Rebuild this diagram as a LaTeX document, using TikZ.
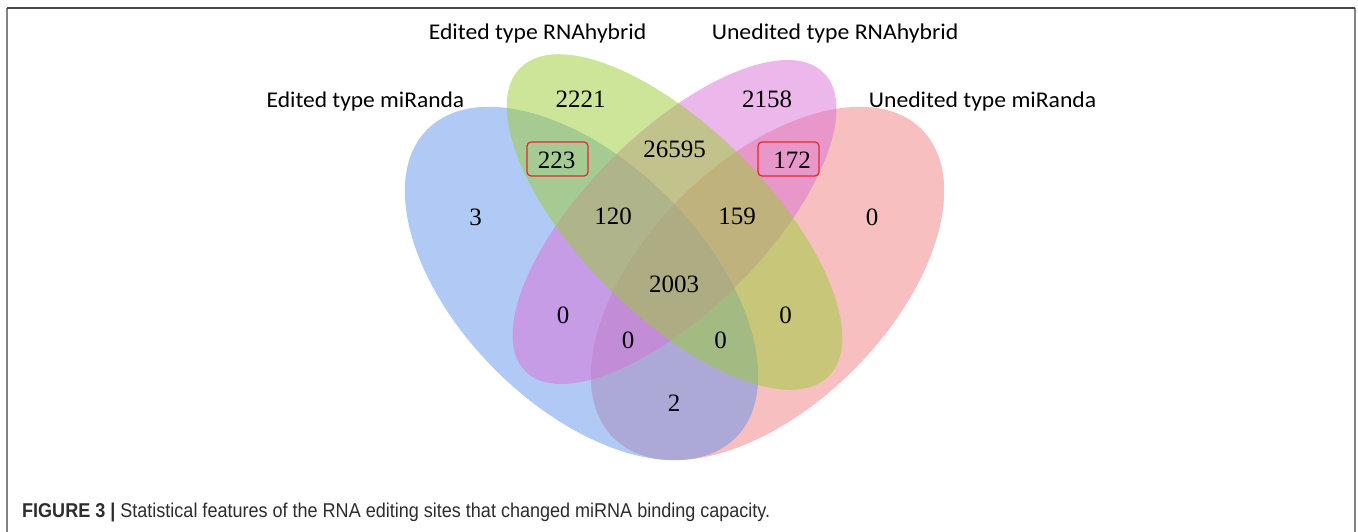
\documentclass[tikz,border=0pt]{standalone}
\usepackage{fontspec}
\usepackage{graphicx}
\setmainfont{Liberation Serif}
\newfontfamily\lblfont{Carlito}
\newfontfamily\capfont{Liberation Sans}
\definecolor{vblue}{RGB}{100,149,237}
\definecolor{vpink}{RGB}{240,128,128}
\definecolor{vmag}{RGB}{218,112,214}
\definecolor{vgreen}{RGB}{154,205,50}
\definecolor{boxred}{RGB}{228,40,50}
\definecolor{capgray}{RGB}{45,45,45}
\definecolor{framedark}{RGB}{70,70,70}
\definecolor{framegray}{RGB}{130,130,130}
\begin{document}
\begin{tikzpicture}[x=1pt,y=-1pt,
  venn/.style={fill opacity=0.5, draw=none},
  num/.style={inner sep=0pt, font=\fontsize{25}{30}\selectfont},
  lbl/.style={inner sep=0pt, anchor=base west, font=\lblfont\fontsize{22.5}{27}\selectfont},
  redbox/.style={draw=boxred, line width=1.2pt, rounded corners=4pt, inner sep=0pt},
  frameline/.style={line width=1.5pt}
]
\useasboundingbox (0,0) rectangle (1358,532);
\fill[white] (0,0) rectangle (1358,532);
% frame
\coordinate (fTL) at (7,8);
\coordinate (fTR) at (1355,8);
\coordinate (fBL) at (7,532);
\coordinate (fBR) at (1355,532);
\draw[frameline, framegray] (fTL) -- (fBL);
\draw[frameline, framegray] (fTR) -- (fBR);
\draw[frameline, framedark] (fTL) -- (fTR);
% ellipse centres
\coordinate (cB) at (581.5,283.5);
\coordinate (cP) at (767.5,283.5);
\coordinate (cG) at (674.5,222);
\coordinate (cM) at (674.5,222);
\fill[vpink, venn, rotate around={45:(cP)}] (cP) ellipse [x radius=218, y radius=122];
\fill[vblue, venn, rotate around={-45:(cB)}] (cB) ellipse [x radius=218, y radius=122];
\fill[vmag, venn, rotate around={45:(cM)}] (cM) ellipse [x radius=211, y radius=89];
\fill[vgreen, venn, rotate around={-45:(cG)}] (cG) ellipse [x radius=218, y radius=93.5];
% red boxes
\node[redbox, minimum width=61pt, minimum height=34pt] (box223) at (557.5,159) {};
\node[redbox, minimum width=61pt, minimum height=34pt] (box172) at (788.5,159) {};
% numbers
\node[num] (n2221) at (580.5,99) {2221};
\node[num] (n2158) at (767,99) {2158};
\node[num] (n26595) at (674.5,149) {26595};
\node[num] (n223) at (556.5,160.5) {223};
\node[num] (n172) at (792,160.5) {172};
\node[num] (n3) at (475.5,217.5) {3};
\node[num] (n0a) at (872,217.5) {0};
\node[num] (n120) at (613,216) {120};
\node[num] (n159) at (737,216) {159};
\node[num] (n2003) at (674,284) {2003};
\node[num] (n0b) at (563,315.3) {0};
\node[num] (n0c) at (785.5,315.3) {0};
\node[num] (n0d) at (628,340.3) {0};
\node[num] (n0e) at (720.5,340.3) {0};
\node[num] (n2) at (674,403.5) {2};
% set labels
\node[lbl] (lER) at (428.6,39.3) {\resizebox{217.4pt}{\height}{Edited type RNAhybrid}};
\node[lbl] (lEM) at (266.5,107.3) {\resizebox{197.5pt}{\height}{Edited type miRanda}};
\node[lbl] (lUR) at (711.6,39.3) {\resizebox{246.4pt}{\height}{Unedited type RNAhybrid}};
\node[lbl] (lUM) at (868.7,107.3) {\resizebox{227.3pt}{\height}{Unedited type miRanda}};
% caption
\node[inner sep=0pt, anchor=base west, text=capgray] (cap) at (22,517.5)
  {\resizebox{748pt}{\height}{\capfont\fontsize{20}{24}\selectfont\textbf{FIGURE 3 |} Statistical features of the RNA editing sites that changed miRNA binding capacity.}};
\end{tikzpicture}
\end{document}
